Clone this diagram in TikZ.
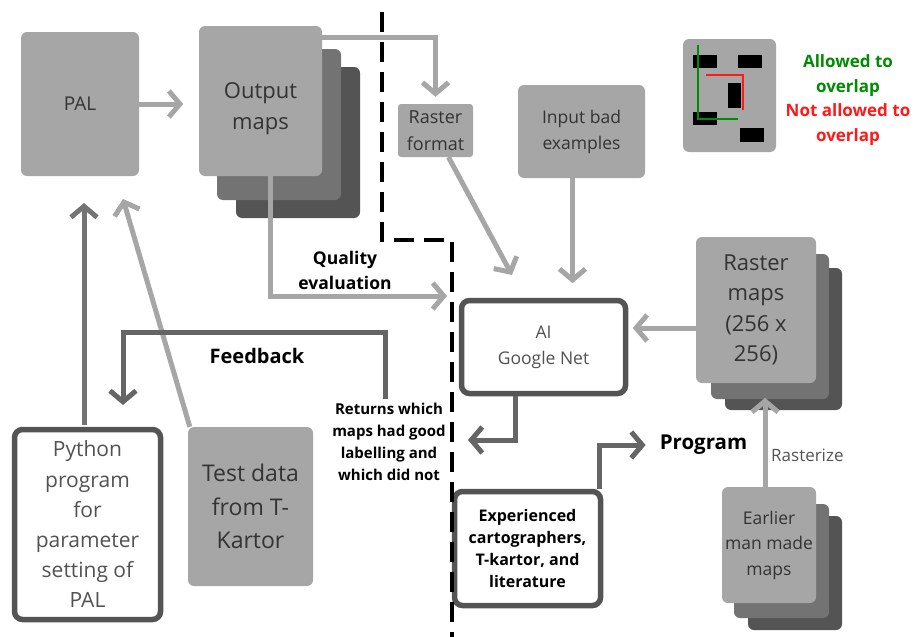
\documentclass[tikz,border=0pt]{standalone}
\usepackage{fontspec}
\setmainfont{Open Sans}
\usepackage{tikz}
\usetikzlibrary{arrows.meta,positioning,calc}
\definecolor{cbox}{HTML}{A6A6A6}
\definecolor{cmid}{HTML}{737373}
\definecolor{cdark}{HTML}{545454}
\definecolor{ctext}{HTML}{333333}
\colorlet{cgreen}{green!55!black}
\colorlet{cred}{red!90!white}

\begin{document}
\begin{tikzpicture}[x=1pt,y=-1pt,
  graybox/.style={fill=cbox,rounded corners=6pt,inner sep=0pt,align=center,text=ctext},
  framebox/.style={draw=cdark,line width=5.5pt,fill=white,rounded corners=8pt,inner sep=0pt,align=center,text=ctext!85!white},
  lightarr/.style={draw=cbox,line width=5pt,-{Straight Barb[length=11pt,width=26pt]}},
  midarr/.style={draw=cmid,line width=5pt,-{Straight Barb[length=11pt,width=26pt]}},
  darkarr/.style={draw=cdark!90!white,line width=5pt,-{Straight Barb[length=11pt,width=26pt]}},
  boldlbl/.style={inner sep=0pt,align=center,font=\bfseries}]
\useasboundingbox (0,0) rectangle (916,637);

\node[graybox,minimum width=118,minimum height=144,font=\fontsize{19}{26}\selectfont] (pal) at (80,104) {PAL};
\node[graybox,fill=cdark,minimum width=124,minimum height=151] (outmapsc) at (298,142.5) {};
\node[graybox,fill=cmid,minimum width=124,minimum height=151] (outmapsb) at (279,124.5) {};
\node[graybox,minimum width=123,minimum height=150,font=\fontsize{22}{31}\selectfont] (outmaps) at (260.5,101) {\rule{0pt}{32pt}Output\\maps};
\node[graybox,rounded corners=3pt,minimum width=75,minimum height=53,font=\fontsize{18}{27}\selectfont] (rasterfmt) at (435.5,130.5) {Raster\\format};
\node[graybox,minimum width=127,minimum height=93,font=\fontsize{17.5}{26}\selectfont] (badex) at (581.5,131.5) {Input bad\\examples};

% legend
\node[graybox,minimum width=93,minimum height=113] (legend) at (729.5,95.5) {};
\fill (693,55) rectangle (717,68);
\fill (738,55) rectangle (762,68);
\fill (728,83) rectangle (741,108);
\fill (693,112) rectangle (717,125);
\fill (740,128) rectangle (764,142);
\draw[cgreen,line width=2.2pt] (698,45) -- (698,119) -- (738,119);
\draw[cred,line width=2.2pt] (706,75) -- (743,75) -- (743,110);
\node[boldlbl,font=\bfseries\fontsize{17}{24.5}\selectfont] (legtext) at (848,100)
  {\textcolor{cgreen}{Allowed to}\\\textcolor{cgreen}{overlap}\\\textcolor{cred}{Not allowed to}\\\textcolor{cred}{overlap}};

\node[graybox,fill=cdark,minimum width=117,minimum height=142] (rmapsc) at (783.5,339) {};
\node[graybox,fill=cmid,minimum width=118,minimum height=145] (rmapsb) at (770,326.5) {};
\node[graybox,minimum width=120,minimum height=146,font=\fontsize{22}{30.5}\selectfont] (rmaps) at (756,310) {Raster\\maps\\(256 x\\256)};

\node[framebox,minimum width=164,minimum height=93,font=\fontsize{17.5}{26}\selectfont] (ai) at (543.5,347) {AI\\Google Net};
\node[framebox,minimum width=146,minimum height=114,text=black,font=\bfseries\fontsize{16}{22.3}\selectfont] (exper) at (527.5,548.5)
  {Experienced\\cartographers,\\T-kartor, and\\literature};

\node[graybox,fill=cdark,minimum width=94,minimum height=114] (earlierc) at (795,573) {};
\node[graybox,fill=cmid,minimum width=95,minimum height=114] (earlierb) at (781.5,561) {};
\node[graybox,minimum width=94,minimum height=116,font=\fontsize{17.5}{25.5}\selectfont] (earlier) at (769,545) {Earlier\\man made\\maps};

\node[framebox,minimum width=146,minimum height=190,font=\fontsize{21}{30.2}\selectfont] (python) at (87.5,524.5)
  {Python\\program\\for\\parameter\\setting of\\PAL};
\node[graybox,minimum width=125,minimum height=159,font=\fontsize{23}{33.5}\selectfont] (testdata) at (250.5,506.5) {Test data\\from T-\\Kartor};

\node[boldlbl,font=\bfseries\fontsize{17.5}{25}\selectfont] (qual) at (345,270) {Quality\\evaluation};
\node[boldlbl,font=\bfseries\fontsize{20}{26}\selectfont] (fbk) at (257,356) {Feedback};
\node[boldlbl,font=\bfseries\fontsize{15}{22}\selectfont] (returns) at (389,442)
  {Returns which\\maps had good\\labelling and\\which did not};
\node[boldlbl,font=\bfseries\fontsize{20.5}{26}\selectfont] (prog) at (703.5,445) {Program};
\node[inner sep=0pt,anchor=west,text=cdark,font=\fontsize{17}{24}\selectfont] (rastlbl) at (771,455) {Rasterize};

\coordinate (qetip) at (447,296);
\coordinate (aitip) at (512,275);
\coordinate (pytip) at (84,203);
\coordinate (tdtip) at (123,199);
\coordinate (fbtip) at (123,405);
\coordinate (retip) at (468,440);

\draw[black,line width=4.5pt,dash pattern=on 20pt off 10pt] (382,12) -- (382,240) -- (452,240) -- (452,637);

\draw[lightarr] (pal.east) -- ++(44,0);
\draw[lightarr] ([yshift=-12pt]outmaps.north east) -| ([yshift=7pt]rasterfmt.north);
\draw[lightarr] ([xshift=10pt]outmaps.south) |- (qetip);
\draw[lightarr] ([xshift=13pt]rasterfmt.south) -- (aitip);
\draw[lightarr] ([xshift=-9pt]badex.south) -- ++(0,105);
\draw[lightarr] ([yshift=-18pt]rmaps.west) -- ++(-63,0);
\draw[lightarr] ([xshift=-4pt]earlier.north) -- ++(0,-89);
\draw[lightarr] ([xshift=2pt]testdata.north west) -- (tdtip);
\draw[midarr] ([xshift=-3.5pt,yshift=2pt]python.north) -- (pytip);
\draw[darkarr] ([xshift=-4pt,yshift=4pt]returns.north) |- ($(fbtip)+(0,-73)$) -- (fbtip);
\draw[darkarr] ([xshift=-28pt]ai.south) |- (retip);
\draw[darkarr] ([xshift=-4pt]exper.north east) |- ([xshift=-14pt]prog.west);
\end{tikzpicture}
\end{document}
